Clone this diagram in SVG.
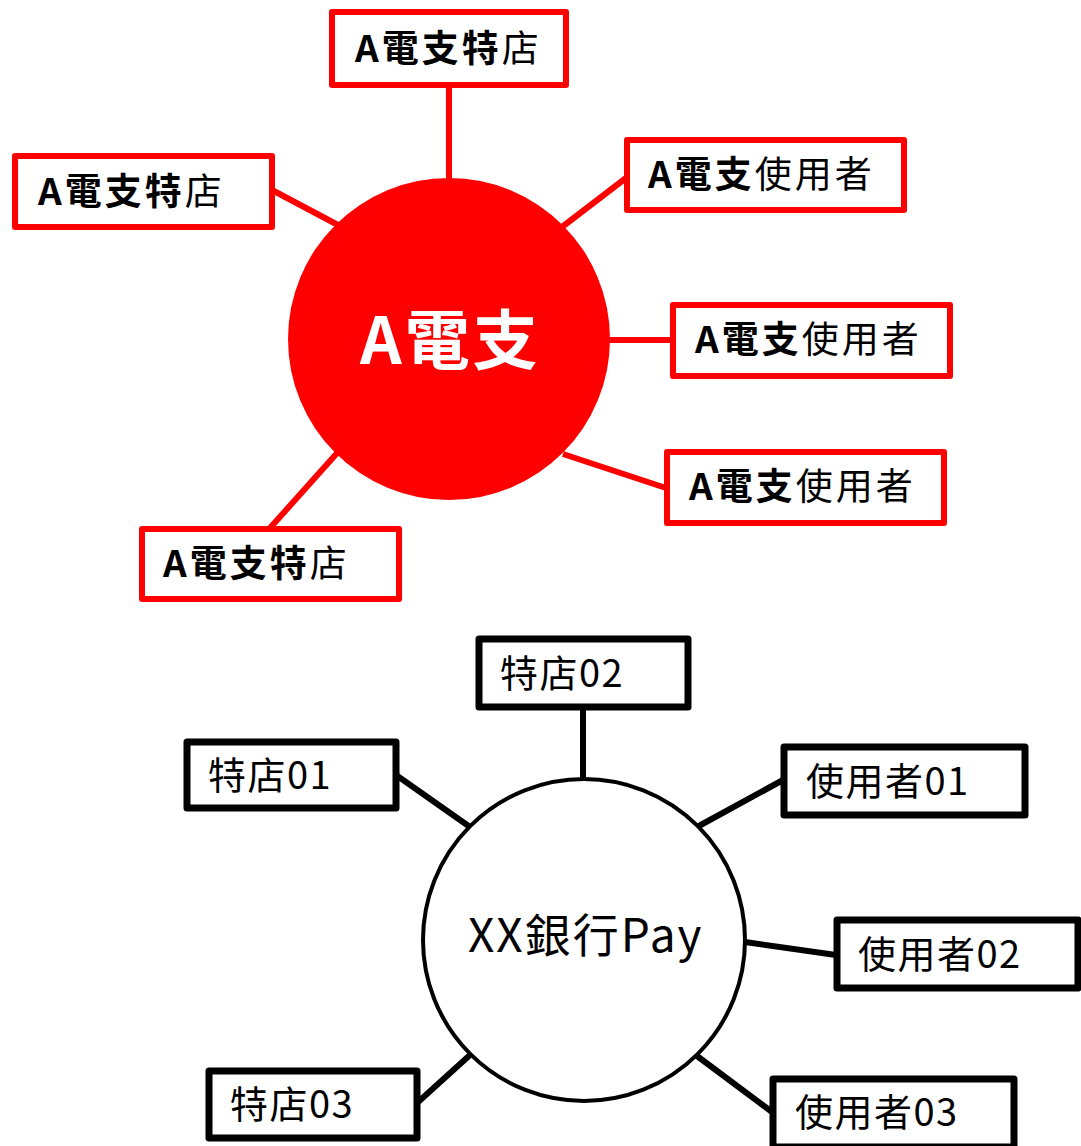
<svg xmlns="http://www.w3.org/2000/svg" width="1081" height="1146" viewBox="0 0 1081 1146">
<style>
text{font-family:"Noto Sans CJK TC","Noto Sans CJK SC",sans-serif;fill:#000}
.rbox{fill:#fff;stroke:#ff0000;stroke-width:6;stroke-linejoin:round}
.bbox{fill:#fff;stroke:#000;stroke-width:7;stroke-linejoin:round}
.rl{stroke:#ff0000;stroke-width:6}
.bl{stroke:#000;stroke-width:6}
.t1{font-size:37px;letter-spacing:3px}
.b{font-weight:bold}
.t2{font-size:38px;letter-spacing:1.5px}
</style>
<rect width="1081" height="1146" fill="#fff"/>
<g id="connectors">
<line class="rl" x1="449" y1="85" x2="449" y2="180"/>
<line class="rl" x1="272" y1="190" x2="338" y2="225"/>
<line class="rl" x1="562" y1="227" x2="626" y2="178"/>
<line class="rl" x1="608" y1="340" x2="672" y2="340"/>
<line class="rl" x1="563" y1="454" x2="666" y2="488"/>
<line class="rl" x1="338" y1="452" x2="270" y2="528"/>
<line class="bl" x1="583" y1="707" x2="583" y2="780"/>
<line class="bl" x1="396" y1="775" x2="470" y2="827"/>
<line class="bl" x1="783" y1="780" x2="697" y2="827"/>
<line class="bl" x1="745" y1="942" x2="836" y2="955"/>
<line class="bl" x1="697" y1="1056" x2="772" y2="1112"/>
<line class="bl" x1="417" y1="1103" x2="470" y2="1055"/>
</g>
<g id="hubA">
<circle cx="449" cy="339" r="161" fill="#ff0000"/>
<text x="360" y="364" font-size="65" font-weight="bold" letter-spacing="3" style="fill:#fff">A電支</text>
</g>
<g id="a-shop-top">
<rect class="rbox" x="332" y="12" width="234" height="73"/>
<text class="t1" x="355" y="62"><tspan class="b">A電支特</tspan>店</text>
</g>
<g id="a-shop-left">
<rect class="rbox" x="15" y="156" width="257" height="71"/>
<text class="t1" x="38" y="205"><tspan class="b">A電支特</tspan>店</text>
</g>
<g id="a-user-1">
<rect class="rbox" x="627" y="140" width="277" height="70"/>
<text class="t1" x="648" y="188"><tspan class="b">A電支</tspan>使用者</text>
</g>
<g id="a-user-2">
<rect class="rbox" x="673" y="305" width="277" height="71"/>
<text class="t1" x="695" y="353"><tspan class="b">A電支</tspan>使用者</text>
</g>
<g id="a-user-3">
<rect class="rbox" x="667" y="452" width="277" height="71"/>
<text class="t1" x="689" y="500"><tspan class="b">A電支</tspan>使用者</text>
</g>
<g id="a-shop-bottom">
<rect class="rbox" x="142" y="529" width="257" height="70"/>
<text class="t1" x="163" y="577"><tspan class="b">A電支特</tspan>店</text>
</g>
<g id="hubXX">
<circle cx="584" cy="940" r="161" fill="#fff" stroke="#000" stroke-width="4"/>
<text x="468" y="952" font-size="46" letter-spacing="2">XX銀行Pay</text>
</g>
<g id="shop02">
<rect class="bbox" x="479" y="639" width="209" height="68"/>
<text class="t2" x="500" y="687">特店02</text>
</g>
<g id="shop01">
<rect class="bbox" x="187" y="742" width="209" height="66"/>
<text class="t2" x="208" y="789">特店01</text>
</g>
<g id="user01">
<rect class="bbox" x="784" y="747" width="241" height="68"/>
<text class="t2" x="806" y="795">使用者01</text>
</g>
<g id="user02">
<rect class="bbox" x="837" y="920" width="241" height="68"/>
<text class="t2" x="858" y="968">使用者02</text>
</g>
<g id="user03">
<rect class="bbox" x="773" y="1079" width="241" height="68"/>
<text class="t2" x="795" y="1126">使用者03</text>
</g>
<g id="shop03">
<rect class="bbox" x="209" y="1071" width="208" height="67"/>
<text class="t2" x="230" y="1118">特店03</text>
</g>
</svg>
